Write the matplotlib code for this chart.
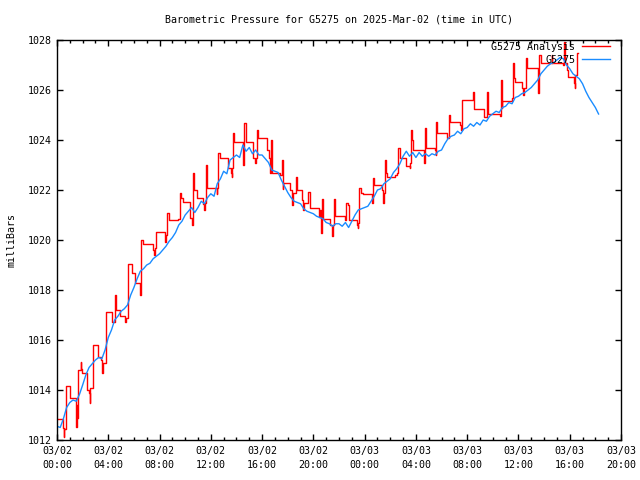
import matplotlib as mpl
import matplotlib.pyplot as plt
import numpy as np


mpl.rcParams.update(
    {
        "font.family": "DejaVu Sans Mono",
        "font.size": 7.2,
        "axes.linewidth": 1.0,
        "xtick.direction": "in",
        "ytick.direction": "in",
        "xtick.top": True,
        "ytick.right": True,
    }
)

# observed station pressure, one reading every 15 minutes from 03/02 00:00
obs_start_hour = 0.0
obs_step_hours = 0.25
obs_mbar = [
    1012.55, 1012.50, 1012.85, 1013.30,
    1013.50, 1013.60, 1013.55, 1013.82,
    1014.20, 1014.60, 1014.90, 1015.05,
    1015.20, 1015.30, 1015.25, 1015.60,
    1016.10, 1016.40, 1016.80, 1016.95,
    1017.15, 1017.25, 1017.40, 1017.80,
    1018.10, 1018.45, 1018.75, 1018.85,
    1019.00, 1019.07, 1019.25, 1019.35,
    1019.45, 1019.60, 1019.75, 1019.95,
    1020.10, 1020.30, 1020.60, 1020.75,
    1021.00, 1021.15, 1021.30, 1021.10,
    1021.30, 1021.55, 1021.45, 1021.70,
    1021.85, 1021.75, 1022.25, 1022.45,
    1022.75, 1022.65, 1023.20, 1023.30,
    1023.40, 1023.30, 1023.80, 1023.55,
    1023.70, 1023.45, 1023.60, 1023.40,
    1023.40, 1023.25, 1023.10, 1022.80,
    1022.75, 1022.70, 1022.40, 1022.15,
    1021.90, 1021.70, 1021.55, 1021.50,
    1021.45, 1021.25, 1021.15, 1021.10,
    1021.05, 1020.95, 1020.90, 1020.85,
    1020.70, 1020.65, 1020.55, 1020.65,
    1020.65, 1020.55, 1020.70, 1020.50,
    1020.75, 1021.00, 1021.20, 1021.25,
    1021.30, 1021.35, 1021.55, 1021.75,
    1022.00, 1022.05, 1022.25, 1022.35,
    1022.45, 1022.70, 1022.85, 1023.05,
    1023.35, 1023.55, 1023.35, 1023.50,
    1023.30, 1023.50, 1023.35, 1023.45,
    1023.35, 1023.45, 1023.40, 1023.55,
    1023.60, 1023.85, 1024.05, 1024.15,
    1024.20, 1024.35, 1024.25, 1024.45,
    1024.50, 1024.65, 1024.55, 1024.70,
    1024.60, 1024.80, 1024.75, 1024.95,
    1025.05, 1025.15, 1025.10, 1025.30,
    1025.35, 1025.50, 1025.45, 1025.70,
    1025.75, 1025.85, 1025.90, 1026.00,
    1026.10, 1026.25, 1026.40, 1026.65,
    1026.80, 1026.95, 1027.05, 1027.10,
    1027.20, 1027.30, 1027.25, 1027.00,
    1026.85, 1026.65, 1026.55, 1026.45,
    1026.25, 1025.95, 1025.70, 1025.50,
    1025.30, 1025.04,
]

# analysis pressure, held until the next change (hours since 03/02 00:00)
ana_hours = [
    0.10, 0.49, 0.53, 0.57, 0.68, 1.00, 1.45, 1.50, 1.54, 1.58,
    1.62, 1.66, 1.85, 1.90, 1.95, 2.36, 2.50, 2.55, 2.60, 2.83,
    3.20, 3.45, 3.50, 3.55, 3.80, 4.30, 4.50, 4.55, 4.62, 4.95,
    5.30, 5.38, 5.56, 5.88, 6.10, 6.45, 6.50, 6.52, 6.55, 6.70,
    7.50, 7.60, 7.65, 7.70, 8.42, 8.46, 8.52, 8.60, 8.70, 9.46,
    9.60, 9.70, 9.85, 10.37, 10.50, 10.55, 10.60, 10.63, 10.72, 10.90,
    11.41, 11.50, 11.55, 11.62, 11.72, 12.46, 12.52, 12.58, 12.68, 13.36,
    13.55, 13.63, 13.66, 13.70, 13.80, 14.48, 14.53, 14.57, 14.61, 14.75,
    15.31, 15.45, 15.50, 15.58, 15.68, 16.40, 16.50, 16.60, 16.72, 16.76,
    17.39, 17.55, 17.60, 17.65, 18.17, 18.35, 18.40, 18.64, 18.72, 19.09,
    19.20, 19.25, 19.60, 19.70, 20.45, 20.55, 20.62, 20.66, 20.70, 20.78,
    21.29, 21.45, 21.50, 21.60, 21.67, 21.72, 22.46, 22.54, 22.68, 22.80,
    23.40, 23.45, 23.50, 23.58, 23.70, 23.85, 24.55, 24.62, 24.70, 25.33,
    25.42, 25.48, 25.59, 25.68, 25.78, 26.40, 26.50, 26.62, 26.72, 27.22,
    27.50, 27.55, 27.58, 27.68, 27.80, 28.60, 28.70, 28.73, 28.80, 29.49,
    29.55, 29.57, 29.68, 30.45, 30.60, 30.68, 31.44, 31.52, 31.57, 32.43,
    32.47, 32.52, 32.57, 33.30, 33.51, 33.60, 33.65, 34.55, 34.60, 34.68,
    34.70, 35.50, 35.55, 35.62, 35.70, 36.25, 36.35, 36.45, 36.60, 36.68,
    37.50, 37.55, 37.58, 37.62, 37.72, 38.60, 38.65, 39.50, 39.55, 39.62,
    39.75, 39.90, 40.30, 40.40, 40.45, 40.53, 40.65,
]
ana_mbar = [
    1012.84, 1012.50, 1012.13, 1012.45, 1014.16, 1013.68, 1013.60, 1012.53, 1013.40, 1012.90,
    1014.60, 1014.80, 1015.13, 1014.85, 1014.68, 1014.00, 1013.90, 1013.48, 1014.10, 1015.80,
    1015.33, 1015.20, 1014.68, 1015.10, 1017.13, 1016.73, 1017.40, 1017.80, 1017.20, 1016.95,
    1016.73, 1016.90, 1019.04, 1018.70, 1018.30, 1018.10, 1017.80, 1018.20, 1020.00, 1019.85,
    1019.60, 1019.40, 1019.70, 1020.31, 1020.10, 1019.93, 1020.20, 1021.10, 1020.80, 1020.85,
    1021.90, 1021.67, 1021.53, 1020.90, 1020.70, 1020.60, 1020.90, 1022.67, 1022.00, 1021.67,
    1021.45, 1021.20, 1021.50, 1023.00, 1022.07, 1021.85, 1022.10, 1023.47, 1023.30, 1022.90,
    1022.70, 1022.53, 1022.90, 1024.27, 1023.93, 1023.60, 1023.00, 1023.50, 1024.67, 1023.91,
    1023.27, 1023.10, 1023.30, 1024.40, 1024.07, 1023.60, 1023.30, 1022.67, 1024.00, 1022.67,
    1022.60, 1023.20, 1022.03, 1022.27, 1022.00, 1021.40, 1021.90, 1022.53, 1022.00, 1021.60,
    1021.20, 1021.50, 1021.93, 1021.27, 1020.93, 1021.20, 1020.29, 1020.90, 1021.63, 1020.83,
    1020.60, 1020.16, 1020.60, 1021.63, 1021.20, 1020.96, 1020.80, 1021.47, 1021.40, 1020.80,
    1020.60, 1020.47, 1020.70, 1022.07, 1021.90, 1021.85, 1021.47, 1022.47, 1022.20, 1022.00,
    1021.49, 1021.90, 1023.20, 1022.67, 1022.53, 1022.60, 1022.70, 1023.67, 1023.27, 1022.95,
    1022.89, 1023.10, 1024.40, 1024.00, 1023.60, 1023.10, 1023.07, 1024.47, 1023.67, 1023.60,
    1023.40, 1024.73, 1024.27, 1024.10, 1025.00, 1024.73, 1024.60, 1024.40, 1025.60, 1025.60,
    1025.90, 1025.70, 1025.23, 1024.90, 1025.93, 1025.70, 1025.05, 1024.95, 1026.40, 1025.30,
    1025.55, 1025.70, 1027.07, 1026.50, 1026.33, 1026.10, 1025.80, 1026.10, 1027.27, 1026.87,
    1026.40, 1025.87, 1026.40, 1027.40, 1027.07, 1027.40, 1027.07, 1027.00, 1027.93, 1027.07,
    1026.80, 1026.53, 1026.30, 1026.07, 1026.60, 1027.47, 1027.47,
]

tick_hours = [0, 4, 8, 12, 16, 20, 24, 28, 32, 36, 40, 44]
tick_labels = [
    "03/02\n00:00", "03/02\n04:00", "03/02\n08:00", "03/02\n12:00",
    "03/02\n16:00", "03/02\n20:00", "03/03\n00:00", "03/03\n04:00",
    "03/03\n08:00", "03/03\n12:00", "03/03\n16:00", "03/03\n20:00",
]
y_ticks = [1012, 1014, 1016, 1018, 1020, 1022, 1024, 1026, 1028]


def main() -> None:
    fig = plt.figure(figsize=(6.4, 4.8), dpi=100)
    ax = fig.add_axes([57 / 640, 40 / 480, 564 / 640, 400 / 480])

    obs_hours = obs_start_hour + obs_step_hours * np.arange(len(obs_mbar))

    ax.plot(ana_hours, ana_mbar, drawstyle="steps-post", color="#ff0000",
            linewidth=1.0, label="G5275 Analysis")
    ax.plot(obs_hours, obs_mbar, color="#1a8cff", linewidth=1.0, label="G5275")

    ax.set_xlim(0, 44)
    ax.set_ylim(1012, 1028)
    ax.set_xticks(tick_hours)
    ax.set_xticklabels(tick_labels, linespacing=1.55)
    ax.set_xticks(np.arange(0, 45, 1), minor=True)
    ax.set_yticks(y_ticks)
    ax.tick_params(which="major", length=4.5, width=1.0, pad=4)
    ax.tick_params(which="minor", length=2.5, width=1.0, top=True)

    fig.text(339 / 640, 1 - 19 / 480,
             "Barometric Pressure for G5275 on 2025-Mar-02 (time in UTC)",
             ha="center", va="center")
    fig.text(12 / 640, 0.5, "milliBars", rotation=90, ha="center", va="center")

    leg = ax.legend(loc="upper right", bbox_to_anchor=((610 - 57) / 564, (440 - 42) / 400),
                    frameon=False, markerfirst=False, borderpad=0, borderaxespad=0,
                    handlelength=2.8, handletextpad=0.7, labelspacing=0.3,
                    fontsize=7.2)
    for t in leg.get_texts():
        t.set_ha("right")
    leg._legend_box.align = "right"

    fig.savefig("out.png", dpi=100)
    plt.close(fig)


if __name__ == "__main__":
    main()
